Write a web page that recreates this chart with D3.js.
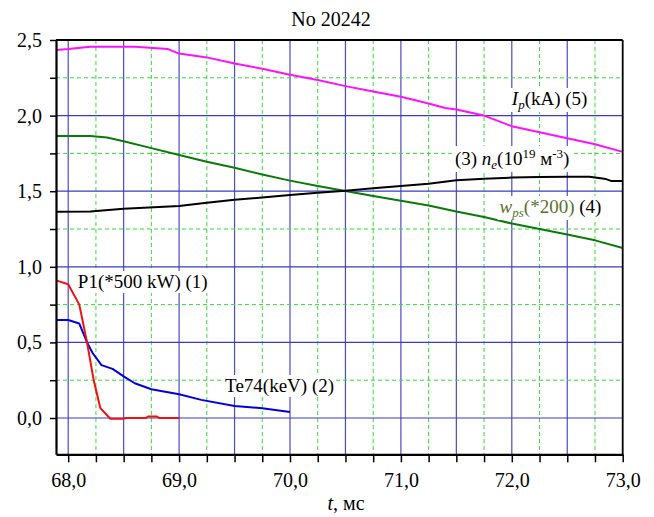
<!DOCTYPE html>
<html><head><meta charset="utf-8">
<script src="https://cdn.jsdelivr.net/npm/d3@7"></script>
<style>
html,body{margin:0;padding:0;background:#fff;}
</style></head>
<body><svg id="c" width="654" height="517"></svg>
<script>
// ---- data (t in ms) ----
const ipT  = [67.89,68.0,68.2,68.4,68.6,68.8,68.9,69.0,69.25,69.5,69.75,70.0,70.25,70.5,70.75,71.0,71.25,71.4,71.5,71.75,72.0,72.25,72.5,72.75,73.0];
const ipV  = [2.434,2.44,2.455,2.456,2.455,2.445,2.44,2.41,2.385,2.345,2.31,2.27,2.235,2.195,2.16,2.125,2.08,2.05,2.04,2.0,1.93,1.89,1.85,1.81,1.76];
const neT  = [67.89,68.2,68.5,69.0,69.25,69.5,69.75,70.0,70.25,70.5,70.75,71.0,71.25,71.5,71.75,72.0,72.25,72.5,72.7,72.85,72.9,73.0];
const neV  = [1.364,1.366,1.384,1.402,1.424,1.443,1.458,1.475,1.49,1.503,1.52,1.534,1.55,1.572,1.582,1.59,1.594,1.596,1.596,1.58,1.567,1.567];
const wpsT = [67.89,68.2,68.35,68.5,68.75,69.0,69.25,69.5,69.75,70.0,70.25,70.5,70.75,71.0,71.25,71.5,71.75,72.0,72.25,72.5,72.75,73.0];
const wpsV = [1.865,1.865,1.855,1.83,1.785,1.74,1.695,1.655,1.61,1.57,1.535,1.502,1.468,1.437,1.405,1.366,1.33,1.286,1.25,1.213,1.175,1.124];
const p1T  = [67.89,68.0,68.1,68.17,68.23,68.29,68.38,68.5,68.52,68.7,68.72,68.8,68.82,69.0];
const p1V  = [0.91,0.885,0.75,0.5,0.25,0.065,-0.005,-0.005,0.0,0.0,0.01,0.01,0.0,0.0];
const teT  = [67.89,68.0,68.1,68.17,68.22,68.3,68.4,68.5,68.6,68.75,69.0,69.2,69.5,69.75,70.0];
const teV  = [0.648,0.648,0.625,0.5,0.43,0.35,0.325,0.275,0.23,0.19,0.157,0.12,0.08,0.065,0.04];

const xTicks = [68.0,68.25,68.5,68.75,69.0,69.25,69.5,69.75,70.0,70.25,70.5,70.75,71.0,71.25,71.5,71.75,72.0,72.25,72.5,72.75,73.0];
const yTicks = [0,0.25,0.5,0.75,1.0,1.25,1.5,1.75,2.0,2.25,2.5];
const titleText = "No 20242";

// ---- layout ----
const FONT = "'Liberation Serif','Times New Roman','DejaVu Serif',serif";
const L=56, R=622.7, T=40, B=454.3;
const x = d3.scaleLinear().domain([67.89,73.0]).range([L,R]);
const y = d3.scaleLinear().domain([-0.24,2.5]).range([B,T]);
const svg = d3.select("#c");
const fmt = v => v.toFixed(1).replace(".", ",");
const isMajor = v => Math.abs(v*2 - Math.round(v*2)) < 1e-6;

// grid
const g = svg.append("g");
g.selectAll("line.vx").data(xTicks.filter(v=>v<73)).join("line")
  .attr("x1",d=>x(d)).attr("x2",d=>x(d)).attr("y1",T).attr("y2",B)
  .attr("stroke",d=>isMajor(d)?"#4a4acc":"#33dd33")
  .attr("stroke-width",d=>isMajor(d)?1.2:1)
  .attr("stroke-dasharray",d=>isMajor(d)?null:"4,3");
g.selectAll("line.hy").data(yTicks.filter(v=>v<2.5)).join("line")
  .attr("y1",d=>y(d)).attr("y2",d=>y(d)).attr("x1",L).attr("x2",R)
  .attr("stroke",d=>isMajor(d)?"#3a3ac8":"#33dd33")
  .attr("stroke-width",d=>isMajor(d)?1.2:1)
  .attr("stroke-dasharray",d=>isMajor(d)?null:"4,3");

// series
const line = (ts,vs) => d3.line().x((d,i)=>x(ts[i])).y(d=>y(d))(vs);
const series = [
  [ipT,ipV,"#ff10ff"],
  [wpsT,wpsV,"#0a7a0a"],
  [neT,neV,"#000000"],
  [teT,teV,"#0000e0"],
  [p1T,p1V,"#f01010"]
];
series.forEach(([ts,vs,c])=>{
  svg.append("path").attr("d",line(ts,vs)).attr("fill","none")
    .attr("stroke",c).attr("stroke-width",2).attr("stroke-linejoin","round");
});

// labels with white background
function label(t, v, parts){
  const grp = svg.append("g");
  const txt = grp.append("text").attr("x",x(t)).attr("y",y(v))
    .attr("font-family",FONT).attr("font-size",19).attr("fill","#000");
  parts.forEach(p=>{
    const ts = txt.append("tspan").text(p.s);
    if(p.i) ts.attr("font-style","italic");
    if(p.c) ts.attr("fill",p.c);
    if(p.sub){ ts.attr("font-size",13).attr("dy",4); }
    if(p.sup){ ts.attr("font-size",13).attr("dy",-7); }
    if(p.back) ts.attr("dy",p.back);
  });
  const bb = txt.node().getBBox();
  grp.insert("rect","text").attr("x",bb.x-2).attr("y",bb.y).attr("width",bb.width+4).attr("height",bb.height)
    .attr("fill","#fff");
}
label(68.087,0.86,[{s:"P1(*500 kW) (1)"}]);
label(69.415,0.172,[{s:"Te74(keV) (2)"}]);
label(71.487,1.673,[{s:"(3) "},{s:"n",i:1},{s:"e",i:1,sub:1},{s:"(10",back:-4},{s:"19",sup:1},{s:" м",back:7},{s:"-3",sup:1},{s:")",back:7}]);
label(72.0,2.07,[{s:"I",i:1},{s:"p",i:1,sub:1},{s:"(kA) (5)",back:-4}]);
label(71.89,1.356,[{s:"w",i:1,c:"#5a7030"},{s:"ps",i:1,sub:1,c:"#5a7030"},{s:"(*200)",back:-4,c:"#5a7030"},{s:" (4)"}]);

// axes
const xa = svg.append("g").attr("transform",`translate(0,${B})`)
  .call(d3.axisBottom(x).tickValues(xTicks).tickSize(8).tickSizeOuter(0).tickPadding(10.5)
    .tickFormat(d=>Math.abs(d-Math.round(d))<1e-6?fmt(d):""));
const ya = svg.append("g").attr("transform",`translate(${L},0)`)
  .call(d3.axisLeft(y).tickValues(yTicks).tickSize(6).tickSizeOuter(0).tickPadding(8)
    .tickFormat(d=>isMajor(d)?fmt(d):""));
[xa,ya].forEach(a=>{
  a.attr("font-family",FONT).attr("font-size",20);
  a.selectAll("text").attr("font-size",20).attr("font-family",FONT).attr("fill","#000");
  a.selectAll("line").attr("stroke","#000").attr("stroke-width",1.5);
  a.select(".domain").attr("stroke","#000").attr("stroke-width",2.2);
});
// top & right frame
svg.append("line").attr("x1",L).attr("x2",R).attr("y1",T).attr("y2",T).attr("stroke","#000").attr("stroke-width",1.8);
svg.append("line").attr("x1",R).attr("x2",R).attr("y1",T).attr("y2",B).attr("stroke","#000").attr("stroke-width",1.8);

// title & x label
svg.append("text").attr("x",331).attr("y",26).attr("text-anchor","middle")
  .attr("font-family",FONT).attr("font-size",20).text(titleText);
const xl = svg.append("text").attr("x",346).attr("y",510).attr("text-anchor","middle")
  .attr("font-family",FONT).attr("font-size",20);
xl.append("tspan").attr("font-style","italic").text("t");
xl.append("tspan").text(", мс");
</script></body></html>
